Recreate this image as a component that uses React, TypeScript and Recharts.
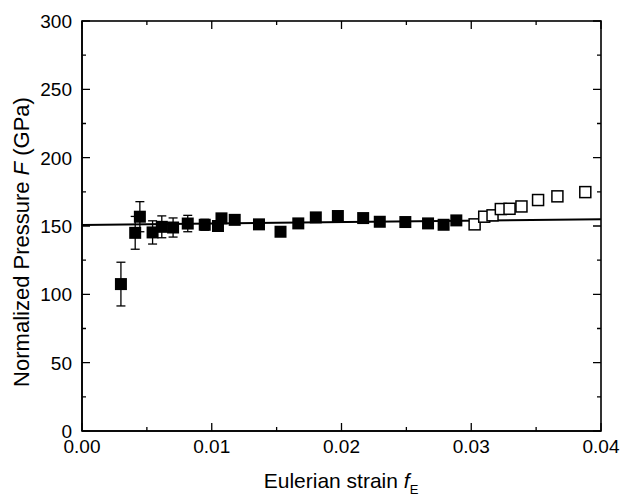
import React from "react";
import {
  ComposedChart,
  Scatter,
  Line,
  XAxis,
  YAxis,
  ErrorBar,
} from "recharts";

// measured points (filled) with error bars
const filledStrain = [
  0.003, 0.0041, 0.00446, 0.00544, 0.00615, 0.00702, 0.00815, 0.00946, 0.01048,
  0.01075, 0.01177, 0.01364, 0.0153, 0.01667, 0.01802, 0.01972, 0.02167,
  0.02295, 0.02492, 0.02667, 0.02787, 0.02885,
];
const filledF = [
  107.5, 145, 156.8, 145.3, 149.4, 148.9, 151.8, 150.9, 150, 155.6, 154.5,
  151.2, 145.8, 151.9, 156.3, 157.3, 155.8, 153.1, 152.9, 151.9, 150.9, 154.1,
];
const filledErr = [16, 12, 11, 8.5, 8, 7, 6, 4, 3, 0, 0, 0, 0, 0, 0, 0, 0, 0, 0, 0, 0, 0];

// open squares (excluded from fit)
const openStrain = [0.03026, 0.031, 0.03164, 0.03228, 0.03295, 0.03387, 0.03515, 0.03664, 0.03879];
const openF = [151.2, 156.8, 157.8, 162.4, 162.6, 164.3, 169, 171.7, 174.8];

// linear fit
const fitStrain = [0, 0.04];
const fitF = [150.8, 155.0];

const xTicks = [0, 0.005, 0.01, 0.015, 0.02, 0.025, 0.03, 0.035, 0.04];
const yTicks = [0, 25, 50, 75, 100, 125, 150, 175, 200, 225, 250, 275, 300];

const filledData = filledStrain.map((f, i) => ({ f, F: filledF[i], err: filledErr[i] }));
const openData = openStrain.map((f, i) => ({ f, F: openF[i] }));
const fitData = fitStrain.map((f, i) => ({ f, F: fitF[i] }));

const FONT = "'Liberation Sans', Arial, sans-serif";
const W = 634;
const H = 497;
const M = { top: 21, right: 33, bottom: 0, left: 0 };
const X_AXIS_H = 66;
const Y_AXIS_W = 82;
const PLOT_W = W - M.left - M.right - Y_AXIS_W;
const PLOT_H = H - M.top - M.bottom - X_AXIS_H;

const isMajorX = (v: number) => Math.abs(v * 100 - Math.round(v * 100)) < 1e-6;
const isMajorY = (v: number) => v % 50 === 0;

// bottom tick + mirrored top tick
const BottomTick = (props: any) => {
  const { x, y, payload } = props;
  const major = isMajorX(payload.value);
  const len = major ? 8 : 4;
  const top = y - PLOT_H;
  return (
    <g>
      <path d={`M${x},${y}V${y - len}M${x},${top}V${top + len}`} stroke="#000" strokeWidth={1.3} fill="none" />
      {major && (
        <text x={x} y={y + 22} textAnchor="middle" fontSize={19} fontFamily={FONT} fill="#000">
          {payload.value.toFixed(2)}
        </text>
      )}
    </g>
  );
};

// left tick + mirrored right tick
const LeftTick = (props: any) => {
  const { x, y, payload } = props;
  const major = isMajorY(payload.value);
  const len = major ? 8 : 4;
  const right = x + PLOT_W;
  return (
    <g>
      <path d={`M${x},${y}H${x + len}M${right},${y}H${right - len}`} stroke="#000" strokeWidth={1.3} fill="none" />
      {major && (
        <text x={x - 10} y={y} dy="0.36em" textAnchor="end" fontSize={19} fontFamily={FONT} fill="#000">
          {payload.value}
        </text>
      )}
    </g>
  );
};

const FilledSquare = (props: any) => {
  const { cx, cy } = props;
  return <rect x={cx - 6} y={cy - 6} width={12} height={12} fill="#000" />;
};

const OpenSquare = (props: any) => {
  const { cx, cy } = props;
  return <rect x={cx - 5.5} y={cy - 5.5} width={11} height={11} fill="#fff" stroke="#000" strokeWidth={1.5} />;
};

export default function App() {
  return (
    <div style={{ position: "absolute", left: 0, top: 0, background: "#fff" }}>
      <ComposedChart width={W} height={H} margin={M}>
        {/* plot frame */}
        <rect
          x={M.left + Y_AXIS_W}
          y={M.top}
          width={PLOT_W}
          height={PLOT_H}
          fill="none"
          stroke="#000"
          strokeWidth={1.6}
        />
        <XAxis
          dataKey="f"
          type="number"
          domain={[0, 0.04]}
          allowDataOverflow
          ticks={xTicks}
          interval={0}
          height={X_AXIS_H}
          tickSize={0}
          tickMargin={0}
          tickLine={false}
          tick={<BottomTick />}
          axisLine={{ stroke: "#000", strokeWidth: 1.5 }}
        />
        <YAxis
          type="number"
          domain={[0, 300]}
          allowDataOverflow
          ticks={yTicks}
          interval={0}
          width={Y_AXIS_W}
          tickSize={0}
          tickMargin={0}
          tickLine={false}
          tick={<LeftTick />}
          axisLine={{ stroke: "#000", strokeWidth: 1.5 }}
        />
        <Line
          data={fitData}
          dataKey="F"
          stroke="#000"
          strokeWidth={2}
          dot={false}
          isAnimationActive={false}
        />
        <Scatter
          data={filledData}
          dataKey="F"
          shape={<FilledSquare />}
          isAnimationActive={false}
        >
          <ErrorBar dataKey="err" direction="y" width={4.5} stroke="#000" strokeWidth={1.3} />
        </Scatter>
        <Scatter
          data={openData}
          dataKey="F"
          shape={<OpenSquare />}
          isAnimationActive={false}
        />
        <text
          x={23}
          y={242}
          transform="rotate(-90 23 242)"
          textAnchor="middle"
          dominantBaseline="middle"
          fontSize={22}
          fontFamily={FONT}
          fill="#000"
        >
          Normalized Pressure <tspan fontStyle="italic">F</tspan> (GPa)
        </text>
        <text x={341} y={488} textAnchor="middle" fontSize={21} fontFamily={FONT} fill="#000">
          Eulerian strain <tspan fontStyle="italic">f</tspan>
          <tspan fontSize={13} dy={6}>E</tspan>
        </text>
      </ComposedChart>
    </div>
  );
}
